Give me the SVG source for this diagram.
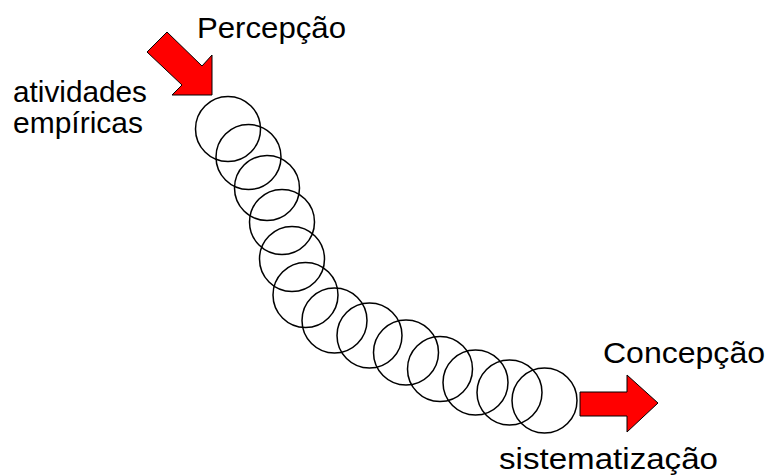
<svg xmlns="http://www.w3.org/2000/svg" width="768" height="475" viewBox="0 0 768 475">
<style>
.t{font-family:"Liberation Sans",Arial,sans-serif;font-size:29px;fill:#000}
.c{fill:none;stroke:#000;stroke-width:1.5}
.a{fill:#ff0000;stroke:#000;stroke-width:1}
</style>
<rect width="768" height="475" fill="#fff"/>
<g id="coils">
<circle class="c" cx="228" cy="129" r="32.5"/>
<circle class="c" cx="248.5" cy="157" r="32.5"/>
<circle class="c" cx="267" cy="188" r="32.5"/>
<circle class="c" cx="282" cy="222" r="32.5"/>
<circle class="c" cx="292" cy="259" r="32.5"/>
<circle class="c" cx="305.5" cy="295" r="32.5"/>
<circle class="c" cx="334.5" cy="320.5" r="32.5"/>
<circle class="c" cx="369.5" cy="335.5" r="32.5"/>
<circle class="c" cx="406" cy="352.5" r="32.5"/>
<circle class="c" cx="440" cy="369" r="32.5"/>
<circle class="c" cx="475.5" cy="382.5" r="32.5"/>
<circle class="c" cx="509.5" cy="392.5" r="32.5"/>
<circle class="c" cx="544.5" cy="400.5" r="32.5"/>
</g>
<g id="arrow-percepcao">
<polygon class="a" points="167,32 202,66 212,55 212,95 172,95 182,85 147,52"/>
</g>
<g id="arrow-concepcao">
<polygon class="a" points="580,392 627,392 627,375 658,403 627,432 627,416 580,416"/>
</g>
<g id="labels">
<text class="t" x="197" y="38" textLength="149" lengthAdjust="spacingAndGlyphs">Percepção</text>
<text class="t" x="13" y="102" textLength="134" lengthAdjust="spacingAndGlyphs">atividades</text>
<text class="t" x="13" y="133" textLength="130" lengthAdjust="spacingAndGlyphs">empíricas</text>
<text class="t" x="603" y="363" textLength="162" lengthAdjust="spacingAndGlyphs">Concepção</text>
<text class="t" x="499" y="469" textLength="219" lengthAdjust="spacingAndGlyphs">sistematização</text>
</g>
</svg>
